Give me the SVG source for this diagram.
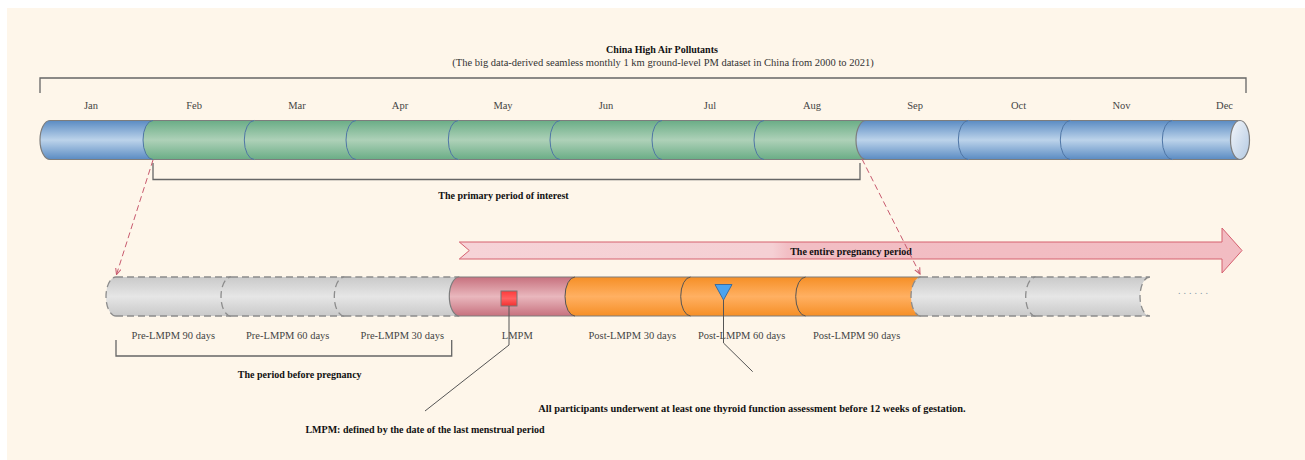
<svg xmlns="http://www.w3.org/2000/svg" width="1305" height="460" viewBox="0 0 1305 460">
<style>
.lbl{font-family:"Liberation Serif",serif;font-size:10.5px;fill:#444;text-anchor:middle}
.bold{font-family:"Liberation Serif",serif;font-size:10px;font-weight:bold;fill:#111;text-anchor:middle}
.sub{font-family:"Liberation Serif",serif;font-size:10.5px;fill:#333;text-anchor:middle}
.edge{fill:none;stroke:#7d7d7d;stroke-width:1.2}
.arcb{fill:none;stroke:#4f76a6;stroke-width:1}
.arcg{fill:none;stroke:#555;stroke-width:1}
.dash{fill:none;stroke:#8c8c8c;stroke-width:1.3;stroke-dasharray:7 4}
.brk{fill:none;stroke:#666;stroke-width:1.3}
.red{fill:none;stroke:#c85a6e;stroke-width:1;stroke-dasharray:6 3.5}
.call{fill:none;stroke:#555;stroke-width:1}
</style>
<defs>
<linearGradient id="gBlue" x1="0" y1="0" x2="0" y2="1"><stop offset="0" stop-color="#5a8bc3"/><stop offset="0.5" stop-color="#bcd3ea"/><stop offset="1" stop-color="#5a8bc3"/></linearGradient>
<linearGradient id="gGreen" x1="0" y1="0" x2="0" y2="1"><stop offset="0" stop-color="#6aad86"/><stop offset="0.5" stop-color="#aed1b8"/><stop offset="1" stop-color="#6aad86"/></linearGradient>
<linearGradient id="gGray" x1="0" y1="0" x2="0" y2="1"><stop offset="0" stop-color="#c9c9c9"/><stop offset="0.5" stop-color="#e6e6e6"/><stop offset="1" stop-color="#c9c9c9"/></linearGradient>
<linearGradient id="gPink" x1="0" y1="0" x2="0" y2="1"><stop offset="0" stop-color="#c7717e"/><stop offset="0.5" stop-color="#e9b7bd"/><stop offset="1" stop-color="#c7717e"/></linearGradient>
<linearGradient id="gOrange" x1="0" y1="0" x2="0" y2="1"><stop offset="0" stop-color="#f68f26"/><stop offset="0.5" stop-color="#ffb062"/><stop offset="1" stop-color="#f68f26"/></linearGradient>
<linearGradient id="gCap" x1="0" y1="0" x2="1" y2="1"><stop offset="0" stop-color="#f4f7fb"/><stop offset="1" stop-color="#b3c9e2"/></linearGradient>
<linearGradient id="gArrow" x1="0" y1="0" x2="1" y2="0"><stop offset="0" stop-color="#f6d3d7"/><stop offset="0.4" stop-color="#f5d0d4"/><stop offset="0.42" stop-color="#f2bec4"/><stop offset="1" stop-color="#f2bcc2"/></linearGradient>
<linearGradient id="gSq" x1="0" y1="0" x2="0" y2="1"><stop offset="0" stop-color="#ff3a3a"/><stop offset="0.5" stop-color="#ff6060"/><stop offset="1" stop-color="#f23030"/></linearGradient>
<marker id="ar" viewBox="0 0 8 8" refX="7" refY="4" markerWidth="7" markerHeight="7" orient="auto"><path d="M0,0.8 L7,4 L0,7.2" fill="none" stroke="#c85a6e" stroke-width="1.2"/></marker>
</defs>
<rect x="0" y="0" width="1305" height="460" fill="#ffffff"/>
<rect x="7" y="8" width="1298" height="452" fill="#fef6ea"/>

<g id="title">
<text class="bold" x="662" y="53">China High Air Pollutants</text>
<text class="sub" x="663" y="66">(The big data-derived seamless monthly 1 km ground-level PM dataset in China from 2000 to 2021)</text>
</g>
<g id="year-bracket"><path class="brk" d="M40,93 V78 H1246 V93"/></g>
<g id="month-labels">
<text class="lbl" x="91" y="108.5">Jan</text>
<text class="lbl" x="194" y="108.5">Feb</text>
<text class="lbl" x="297" y="108.5">Mar</text>
<text class="lbl" x="400" y="108.5">Apr</text>
<text class="lbl" x="503" y="108.5">May</text>
<text class="lbl" x="606" y="108.5">Jun</text>
<text class="lbl" x="710" y="108.5">Jul</text>
<text class="lbl" x="812" y="108.5">Aug</text>
<text class="lbl" x="915" y="108.5">Sep</text>
<text class="lbl" x="1018.5" y="108.5">Oct</text>
<text class="lbl" x="1121.5" y="108.5">Nov</text>
<text class="lbl" x="1224.5" y="108.5">Dec</text>
</g>

<g id="top-cylinder">
<g id="m-jan"><path fill="url(#gBlue)" d="M50,120.5 H153 V159.5 H50 A10 19.5 0 0 1 50,120.5 Z"/><path class="edge" d="M50,120.5 H153 M50,159.5 H153"/><path class="edge" d="M50,159.5 A10 19.5 0 0 1 50,120.5"/></g>
<g id="m-feb"><path fill="url(#gGreen)" d="M153,120.5 H254.3 V159.5 H153 A10 19.5 0 0 1 153,120.5 Z"/><path class="edge" d="M153,120.5 H254.3 M153,159.5 H254.3"/><path class="arcb" d="M153,159.5 A10 19.5 0 0 1 153,120.5"/></g>
<g id="m-mar"><path fill="url(#gGreen)" d="M254.3,120.5 H356 V159.5 H254.3 A10 19.5 0 0 1 254.3,120.5 Z"/><path class="edge" d="M254.3,120.5 H356 M254.3,159.5 H356"/><path class="arcb" d="M254.3,159.5 A10 19.5 0 0 1 254.3,120.5"/></g>
<g id="m-apr"><path fill="url(#gGreen)" d="M356,120.5 H458.3 V159.5 H356 A10 19.5 0 0 1 356,120.5 Z"/><path class="edge" d="M356,120.5 H458.3 M356,159.5 H458.3"/><path class="arcb" d="M356,159.5 A10 19.5 0 0 1 356,120.5"/></g>
<g id="m-may"><path fill="url(#gGreen)" d="M458.3,120.5 H560 V159.5 H458.3 A10 19.5 0 0 1 458.3,120.5 Z"/><path class="edge" d="M458.3,120.5 H560 M458.3,159.5 H560"/><path class="arcb" d="M458.3,159.5 A10 19.5 0 0 1 458.3,120.5"/></g>
<g id="m-jun"><path fill="url(#gGreen)" d="M560,120.5 H662 V159.5 H560 A10 19.5 0 0 1 560,120.5 Z"/><path class="edge" d="M560,120.5 H662 M560,159.5 H662"/><path class="arcb" d="M560,159.5 A10 19.5 0 0 1 560,120.5"/></g>
<g id="m-jul"><path fill="url(#gGreen)" d="M662,120.5 H764 V159.5 H662 A10 19.5 0 0 1 662,120.5 Z"/><path class="edge" d="M662,120.5 H764 M662,159.5 H764"/><path class="arcb" d="M662,159.5 A10 19.5 0 0 1 662,120.5"/></g>
<g id="m-aug"><path fill="url(#gGreen)" d="M764,120.5 H866 V159.5 H764 A10 19.5 0 0 1 764,120.5 Z"/><path class="edge" d="M764,120.5 H866 M764,159.5 H866"/><path class="arcb" d="M764,159.5 A10 19.5 0 0 1 764,120.5"/></g>
<g id="m-sep"><path fill="url(#gBlue)" d="M866,120.5 H968.3 V159.5 H866 A10 19.5 0 0 1 866,120.5 Z"/><path class="edge" d="M866,120.5 H968.3 M866,159.5 H968.3"/><path class="edge" d="M866,159.5 A10 19.5 0 0 1 866,120.5"/></g>
<g id="m-oct"><path fill="url(#gBlue)" d="M968.3,120.5 H1070.3 V159.5 H968.3 A10 19.5 0 0 1 968.3,120.5 Z"/><path class="edge" d="M968.3,120.5 H1070.3 M968.3,159.5 H1070.3"/><path class="arcb" d="M968.3,159.5 A10 19.5 0 0 1 968.3,120.5"/></g>
<g id="m-nov"><path fill="url(#gBlue)" d="M1070.3,120.5 H1172.3 V159.5 H1070.3 A10 19.5 0 0 1 1070.3,120.5 Z"/><path class="edge" d="M1070.3,120.5 H1172.3 M1070.3,159.5 H1172.3"/><path class="arcb" d="M1070.3,159.5 A10 19.5 0 0 1 1070.3,120.5"/></g>
<g id="m-dec"><path fill="url(#gBlue)" d="M1172.3,120.5 H1240 V159.5 H1172.3 A10 19.5 0 0 1 1172.3,120.5 Z"/><path class="edge" d="M1172.3,120.5 H1240 M1172.3,159.5 H1240"/><path class="arcb" d="M1172.3,159.5 A10 19.5 0 0 1 1172.3,120.5"/><ellipse cx="1240" cy="140" rx="9.5" ry="19.5" fill="url(#gCap)" stroke="#7d7d7d" stroke-width="1.2"/></g>
</g>

<g id="primary-bracket"><path class="brk" d="M153,163 V179.5 H860 V163"/><text class="bold" x="503.5" y="199">The primary period of interest</text></g>

<g id="pregnancy-arrow">
<path d="M459.3,242 H1222 V228 L1242,250.5 L1222,273 V259 H459.3 L469.3,250.5 Z" fill="url(#gArrow)" stroke="#d5606f" stroke-width="1"/>
<text class="bold" x="851" y="254.5">The entire pregnancy period</text>
</g>

<g id="bottom-cylinder">
<g id="pre90"><path fill="url(#gGray)" d="M116,277 H231 V316 H116 A10 19.5 0 0 1 116,277 Z"/><path class="dash" d="M116,277 H231 M116,316 H231 M116,316 A10 19.5 0 0 1 116,277"/></g>
<g id="pre60"><path fill="url(#gGray)" d="M231,277 H344.3 V316 H231 A10 19.5 0 0 1 231,277 Z"/><path class="dash" d="M231,277 H344.3 M231,316 H344.3 M231,316 A10 19.5 0 0 1 231,277"/></g>
<g id="pre30"><path fill="url(#gGray)" d="M344.3,277 H459.3 V316 H344.3 A10 19.5 0 0 1 344.3,277 Z"/><path class="dash" d="M344.3,277 H459.3 M344.3,316 H459.3 M344.3,316 A10 19.5 0 0 1 344.3,277"/></g>
<g id="lmpm"><path fill="url(#gPink)" d="M459.3,277 H575 V316 H459.3 A10 19.5 0 0 1 459.3,277 Z"/><path class="edge" d="M459.3,277 H575 M459.3,316 H575 M459.3,316 A10 19.5 0 0 1 459.3,277"/><rect x="501" y="291" width="16" height="15" fill="url(#gSq)" stroke="#777" stroke-width="1"/></g>
<g id="post30"><path fill="url(#gOrange)" d="M575,277 H690.7 V316 H575 A10 19.5 0 0 1 575,277 Z"/><path class="edge" d="M575,277 H690.7 M575,316 H690.7"/><path class="arcg" d="M575,316 A10 19.5 0 0 1 575,277"/></g>
<g id="post60"><path fill="url(#gOrange)" d="M690.7,277 H805.7 V316 H690.7 A10 19.5 0 0 1 690.7,277 Z"/><path class="edge" d="M690.7,277 H805.7 M690.7,316 H805.7"/><path class="arcg" d="M690.7,316 A10 19.5 0 0 1 690.7,277"/><polygon points="715,284.5 732,284.5 723.5,300" fill="#4aa3f0" stroke="#3d6d9e" stroke-width="1"/></g>
<g id="post90"><path fill="url(#gOrange)" d="M805.7,277 H921 V316 H805.7 A10 19.5 0 0 1 805.7,277 Z"/><path class="edge" d="M805.7,277 H921 M805.7,316 H921"/><path class="arcg" d="M805.7,316 A10 19.5 0 0 1 805.7,277"/></g>
<g id="later1"><path fill="url(#gGray)" d="M921,277 H1035.7 V316 H921 A10 19.5 0 0 1 921,277 Z"/><path class="dash" d="M921,277 H1035.7 M921,316 H1035.7 M921,316 A10 19.5 0 0 1 921,277"/></g>
<g id="later2"><path fill="url(#gGray)" d="M1035.7,277 H1150 A10 19.5 0 0 0 1150,316 H1035.7 A10 19.5 0 0 1 1035.7,277 Z"/><path class="dash" d="M1035.7,277 H1150 M1035.7,316 H1150 M1035.7,316 A10 19.5 0 0 1 1035.7,277 M1150,277 A10 19.5 0 0 0 1150,316"/></g>
<g id="ellipsis"><text x="1178" y="294" font-family="Liberation Serif,serif" font-size="10" fill="#8596a8" letter-spacing="3">......</text></g>
</g>

<g id="bottom-labels">
<text class="lbl" x="173.3" y="338.5">Pre-LMPM 90 days</text>
<text class="lbl" x="287.7" y="338.5">Pre-LMPM 60 days</text>
<text class="lbl" x="402.3" y="338.5">Pre-LMPM 30 days</text>
<text class="lbl" x="517.3" y="338.5">LMPM</text>
<text class="lbl" x="632.3" y="338.5">Post-LMPM 30 days</text>
<text class="lbl" x="741.7" y="338.5">Post-LMPM 60 days</text>
<text class="lbl" x="856.7" y="338.5">Post-LMPM 90 days</text>
</g>

<g id="pre-bracket"><path class="brk" d="M116,340 V356 H451.7 V340"/><text class="bold" x="299.7" y="377.8">The period before pregnancy</text></g>

<g id="connectors">
<path class="red" d="M153,160 L116.5,274.5" marker-end="url(#ar)"/>
<path class="red" d="M862,159 L920,274" marker-end="url(#ar)"/>
<path class="call" d="M509,306 V345 L425,411"/>
<path class="call" d="M723.5,300 V343 L752.7,371.7"/>
</g>

<g id="notes">
<text class="bold" x="752" y="411.8" style="font-size:10.4px">All participants underwent at least one thyroid function assessment before 12 weeks of gestation.</text>
<text class="bold" x="425" y="432.5">LMPM: defined by the date of the last menstrual period</text>
</g>
</svg>
